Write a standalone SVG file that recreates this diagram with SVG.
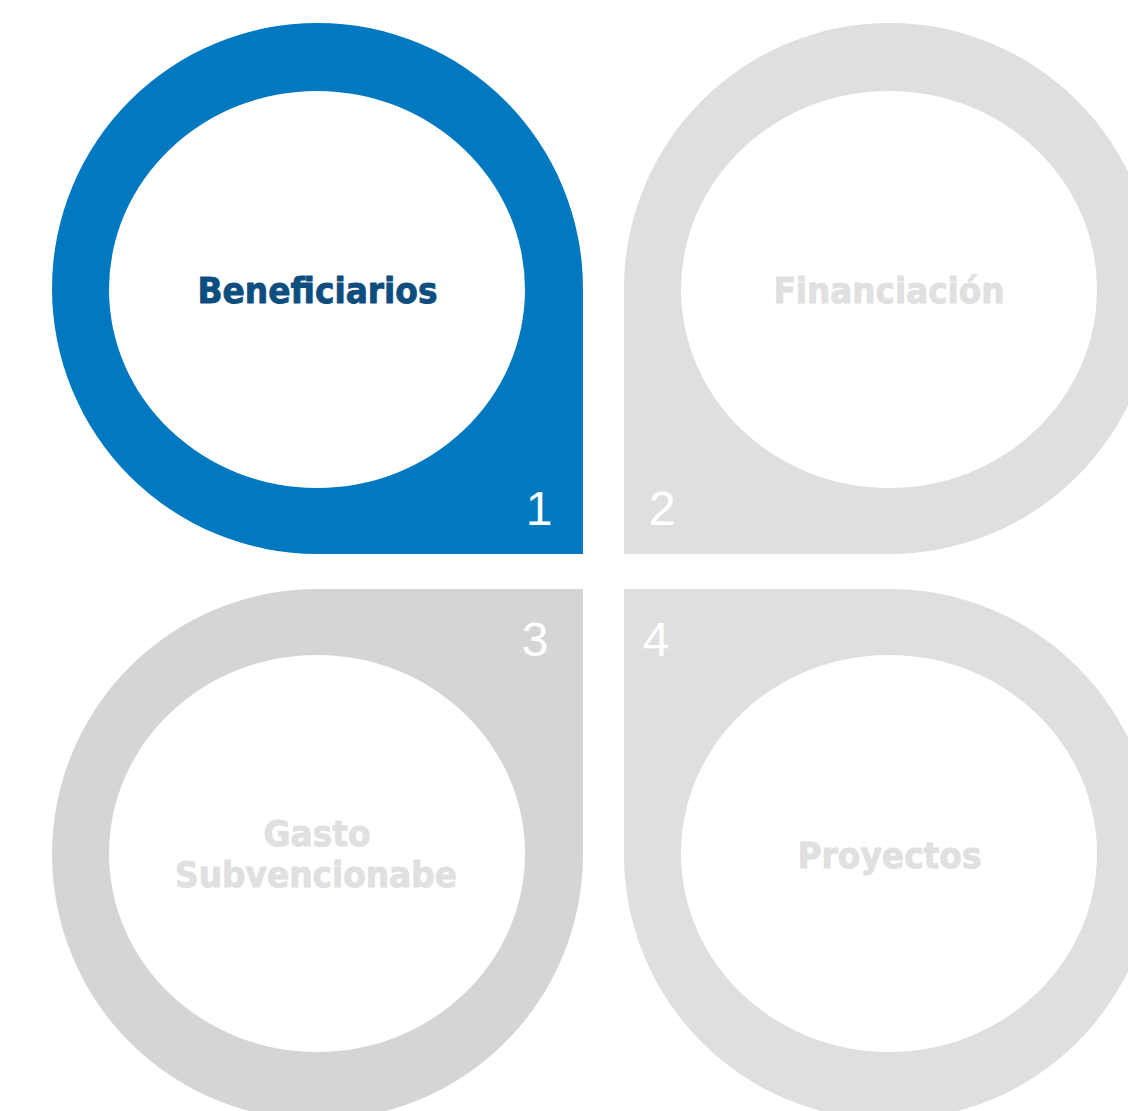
<svg xmlns="http://www.w3.org/2000/svg" width="1128" height="1111" viewBox="0 0 1128 1111">
<style>
.lbl{font-family:"DejaVu Sans","Liberation Sans",sans-serif;font-weight:bold;font-size:35px;text-anchor:middle;stroke-width:0.9px;stroke-linejoin:round}
.on{fill:#0E4E7F;stroke:#0E4E7F}
.off{fill:#E0E0E0;stroke:#E0E0E0}
.num{font-family:"Liberation Sans",Arial,sans-serif;font-size:48px;fill:#FFFFFF;text-anchor:middle}
.hole{fill:#FFFFFF}
</style>
<rect width="1128" height="1111" fill="#FFFFFF"/>
<g id="node1">
<path d="M583 554 L317.5 554 A265.5 265.5 0 0 1 52 288.5 A265.5 265.5 0 0 1 317.5 23 A265.5 265.5 0 0 1 583 288.5 Z" fill="#0079C1"/>
<ellipse class="hole" cx="317" cy="289.5" rx="208" ry="198.5"/>
<text class="lbl on" x="317.5" y="302.7" textLength="240" lengthAdjust="spacingAndGlyphs">Beneficiarios</text>
<text class="num" x="539" y="525">1</text>
</g>
<g id="node2">
<path d="M624 554 L889.5 554 A265.5 265.5 0 0 0 1155 288.5 A265.5 265.5 0 0 0 889.5 23 A265.5 265.5 0 0 0 624 288.5 Z" fill="#DFDFDF"/>
<ellipse class="hole" cx="889" cy="289.5" rx="208" ry="198.5"/>
<text class="lbl off" x="889" y="302.7" textLength="231" lengthAdjust="spacingAndGlyphs">Financiación</text>
<text class="num" x="662" y="525">2</text>
</g>
<g id="node3">
<path d="M583 589 L317.5 589 A265.5 265.5 0 0 0 52 854.5 A265.5 265.5 0 0 0 317.5 1120 A265.5 265.5 0 0 0 583 854.5 Z" fill="#D5D5D5"/>
<ellipse class="hole" cx="317" cy="853.5" rx="208" ry="198.5"/>
<text class="lbl off" x="317" y="846" textLength="107" lengthAdjust="spacingAndGlyphs">Gasto</text>
<text class="lbl off" x="316" y="887" textLength="282" lengthAdjust="spacingAndGlyphs">Subvencionabe</text>
<text class="num" x="535" y="656">3</text>
</g>
<g id="node4">
<path d="M624 589 L889.5 589 A265.5 265.5 0 0 1 1155 854.5 A265.5 265.5 0 0 1 889.5 1120 A265.5 265.5 0 0 1 624 854.5 Z" fill="#DFDFDF"/>
<ellipse class="hole" cx="889" cy="853.5" rx="208" ry="198.5"/>
<text class="lbl off" x="889.5" y="868" textLength="184" lengthAdjust="spacingAndGlyphs">Proyectos</text>
<text class="num" x="656" y="656">4</text>
</g>
<g id="connectors"/>
</svg>
